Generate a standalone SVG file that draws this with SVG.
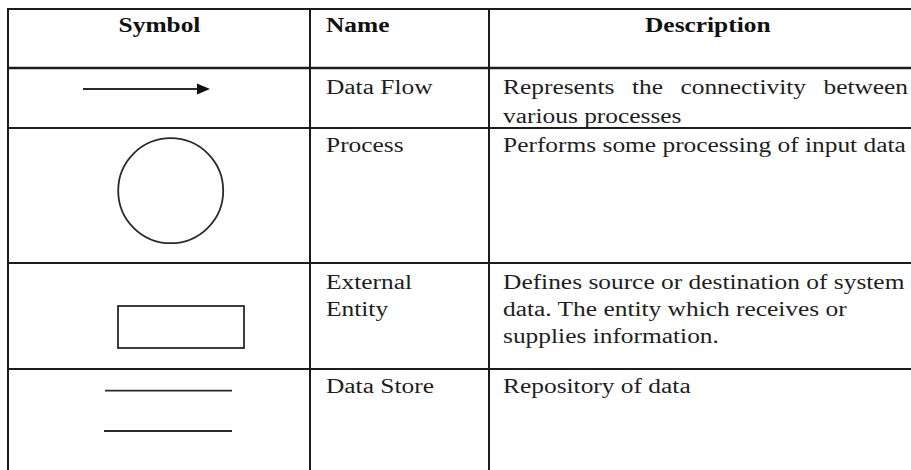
<svg xmlns="http://www.w3.org/2000/svg" width="911" height="470" viewBox="0 0 911 470">
  <style>
    .grid { stroke: #1c1c1c; stroke-width: 2; fill: none; }
    .sym { stroke: #2a2a2a; stroke-width: 1.8; fill: none; }
    .hd { font-family: "Liberation Serif", "Times New Roman", serif; font-size: 20px; font-weight: bold; fill: #111; }
    .tx { font-family: "Liberation Serif", "Times New Roman", serif; font-size: 20px; fill: #1e1e1e; }
  </style>

  <rect x="0" y="0" width="911" height="470" fill="#ffffff"/>

  <!-- table rules -->
  <g id="table-grid" class="grid">
    <line x1="8" y1="9" x2="911" y2="9"/>
    <line x1="8" y1="68" x2="911" y2="68" stroke-width="2.5"/>
    <line x1="8" y1="128" x2="911" y2="128"/>
    <line x1="8" y1="263" x2="911" y2="263"/>
    <line x1="8" y1="369" x2="911" y2="369"/>
    <line x1="8" y1="8" x2="8" y2="470"/>
    <line x1="310" y1="8" x2="310" y2="470"/>
    <line x1="489" y1="8" x2="489" y2="470"/>
  </g>

  <!-- symbol column drawings -->
  <g id="sym-data-flow">
    <line class="sym" x1="83" y1="89" x2="199" y2="89"/>
    <polygon points="197,83.5 210,89 197,94.5" fill="#111"/>
  </g>
  <g id="sym-process">
    <circle class="sym" cx="170.7" cy="190.7" r="52.5"/>
  </g>
  <g id="sym-external-entity">
    <rect class="sym" x="118" y="306" width="126" height="42" stroke="#444" stroke-width="2.2"/>
  </g>
  <g id="sym-data-store">
    <line class="sym" x1="105" y1="390.7" x2="232" y2="390.7"/>
    <line class="sym" x1="104" y1="431" x2="232" y2="431"/>
  </g>

  <!-- labels; glyphs are drawn wide, so the text layer is stretched horizontally -->
  <g id="labels" transform="scale(1.27 1)">
    <g id="header">
      <text class="hd" x="125.6" y="32.5" text-anchor="middle">Symbol</text>
      <text class="hd" x="256.7" y="32.5">Name</text>
      <text class="hd" x="507.9" y="32.5">Description</text>
    </g>
    <g id="row-data-flow">
      <text class="tx" x="256.7" y="94">Data Flow</text>
      <text class="tx" y="94"><tspan x="396.1">Represents</tspan><tspan x="497.6">the</tspan><tspan x="535.8">connectivity</tspan><tspan x="648.4">between</tspan></text>
      <text class="tx" x="396.1" y="123">various processes</text>
    </g>
    <g id="row-process">
      <text class="tx" x="256.7" y="152">Process</text>
      <text class="tx" x="396.1" y="152">Performs some processing of input data</text>
    </g>
    <g id="row-external-entity">
      <text class="tx" x="256.7" y="289">External</text>
      <text class="tx" x="256.7" y="316">Entity</text>
      <text class="tx" x="396.1" y="289">Defines source or destination of system</text>
      <text class="tx" x="396.1" y="316">data. The entity which receives or</text>
      <text class="tx" x="396.1" y="343">supplies information.</text>
    </g>
    <g id="row-data-store">
      <text class="tx" x="256.7" y="393">Data Store</text>
      <text class="tx" x="396.1" y="393">Repository of data</text>
    </g>
  </g>
</svg>
